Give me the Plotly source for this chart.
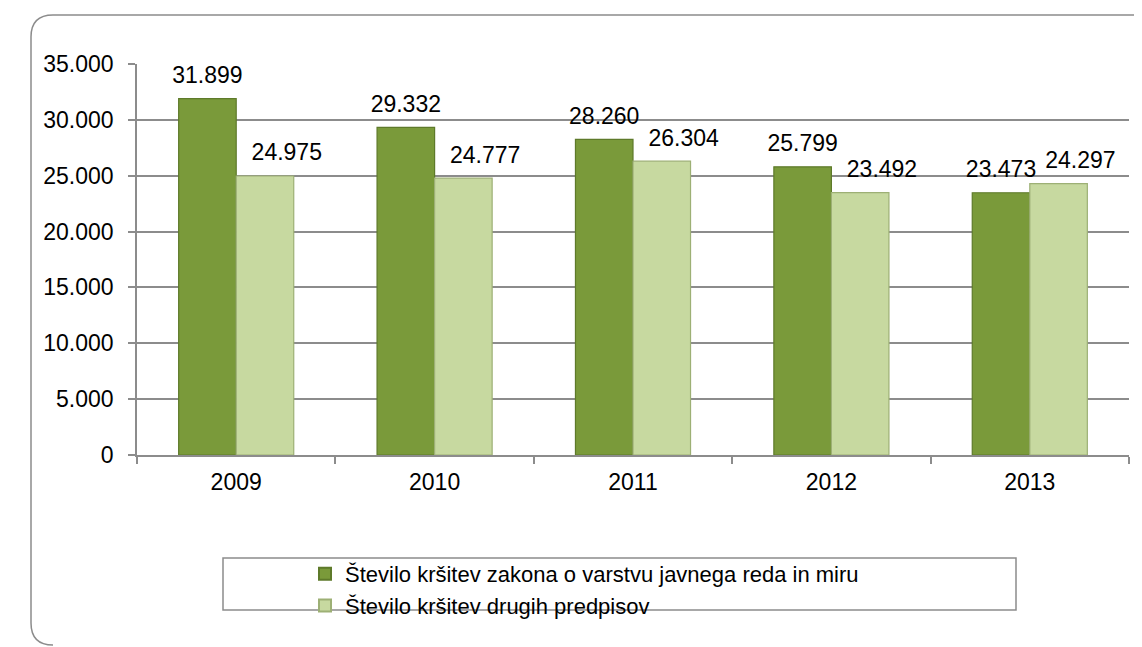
import plotly.graph_objects as go

years = ["2009", "2010", "2011", "2012", "2013"]
kr_zakona = [31899, 29332, 28260, 25799, 23473]
kr_drugih = [24975, 24777, 26304, 23492, 24297]
y_ticks = [0, 5000, 10000, 15000, 20000, 25000, 30000, 35000]

series_names = [
    "Število kršitev zakona o varstvu javnega reda in miru",
    "Število kršitev drugih predpisov",
]
bar_colors = ["#7A9A3A", "#C7D9A0"]
edge_colors = ["#5E7A2A", "#9DB075"]

W, H = 1142, 647
OFF = 8  # page body margin shifts the figure
L, R, T, B = 137 - OFF, 1129 - OFF, 64 - OFF, 455 - OFF  # plot area in figure pixels
BARGAP = 0.42


def fmt(v):
    return f"{v:,}".replace(",", ".")


# page pixel -> paper coords
def px_x(x):
    return (x - OFF - L) / (R - L)


def px_y(y):
    return (B - (y - OFF)) / (B - T)


FONT = dict(family="Liberation Sans, Arial, sans-serif", size=23, color="#000000")

fig = go.Figure()
for name, vals, col, edge in zip(series_names, [kr_zakona, kr_drugih], bar_colors, edge_colors):
    fig.add_trace(go.Bar(
        x=years, y=vals, name=name,
        marker=dict(color=col, line=dict(color=edge, width=1.2)),
    ))

# value labels sit on hidden overlay axes shifted to each bar's centre
# (light series labels a bit right of centre, as in the original)
half = (1 - BARGAP) / 4
label_shift = [-half, half + 0.11]
for i, (vals, sh) in enumerate(zip([kr_zakona, kr_drugih], label_shift)):
    fig.add_trace(go.Scatter(
        x=years, y=vals, mode="markers+text", xaxis=f"x{i + 2}",
        marker=dict(size=14, opacity=0),
        text=[fmt(v) for v in vals], textposition="top center",
        textfont=FONT, cliponaxis=False, showlegend=False, hoverinfo="skip",
    ))
    fig.layout[f"xaxis{i + 2}"] = dict(
        overlaying="x", visible=False, type="category",
        range=[-0.5 - sh, len(years) - 0.5 - sh],
    )

# rounded outer frame
x0, y0, r = 31, 15, 22
frame = (
    f"M {px_x(x0 + r)},{px_y(y0)} L {px_x(1170)},{px_y(y0)} "
    f"M {px_x(x0 + r)},{px_y(y0)} Q {px_x(x0)},{px_y(y0)} {px_x(x0)},{px_y(y0 + r)} "
    f"L {px_x(x0)},{px_y(645 - r)} Q {px_x(x0)},{px_y(645)} {px_x(x0 + r)},{px_y(645)}"
)
shapes = [
    dict(type="path", xref="paper", yref="paper", path=frame,
         line=dict(color="#8C8C8C", width=1.5), layer="below"),
    dict(type="rect", xref="paper", yref="paper",
         x0=px_x(223), x1=px_x(1016), y0=px_y(558), y1=px_y(610),
         line=dict(color="#8C8C8C", width=1.5), fillcolor="rgba(0,0,0,0)"),
]

fig.update_layout(
    width=W, height=H,
    margin=dict(l=L, r=W - R, t=T, b=H - B),
    paper_bgcolor="white", plot_bgcolor="white",
    font=FONT,
    barmode="group", bargap=BARGAP, bargroupgap=0,
    shapes=shapes,
    showlegend=True,
    legend=dict(
        x=px_x(305), y=px_y(553), xanchor="left", yanchor="top",
        font=dict(family="Liberation Sans, Arial, sans-serif", size=22, color="#000"),
        bgcolor="rgba(0,0,0,0)", borderwidth=0,
        itemsizing="constant", tracegroupgap=0,
    ),
    xaxis=dict(
        showline=True, linecolor="#8C8C8C", linewidth=1.5,
        ticks="outside", ticklen=7, tickcolor="#8C8C8C", tickwidth=1.5,
        tickson="boundaries", showgrid=False,
        tickfont=FONT, ticklabelstandoff=6,
    ),
    yaxis=dict(
        range=[0, 35000], tickvals=y_ticks, ticktext=[fmt(v) for v in y_ticks],
        showline=True, linecolor="#8C8C8C", linewidth=1.5,
        ticks="outside", ticklen=7, tickcolor="#8C8C8C", tickwidth=1.5,
        showgrid=True, gridcolor="#8C8C8C", gridwidth=1.5,
        zeroline=False, tickfont=FONT, ticklabelstandoff=10,
    ),
)

fig.write_html("out.html")
